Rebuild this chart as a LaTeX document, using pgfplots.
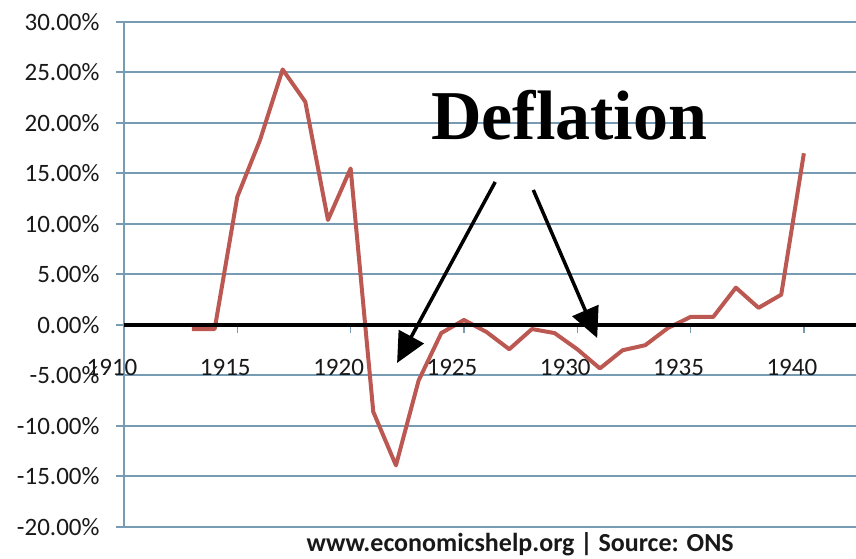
\documentclass[border=0pt]{standalone}
\usepackage{fontspec}
\setmainfont{Carlito}
\newfontfamily\deffont{Liberation Serif}
\usepackage{pgfplots}
\pgfplotsset{compat=1.18}
\usetikzlibrary{arrows.meta}
\definecolor{gridc}{RGB}{120,155,180}
\definecolor{linec}{RGB}{188,88,82}
\begin{document}
\begin{tikzpicture}
\begin{axis}[
  scale only axis,
  width=732pt, height=505pt,
  xmin=1910, xmax=1942.3,
  ymin=-20, ymax=30,
  axis x line=middle,
  axis y line=left,
  hide obscured x ticks=false,
  x axis line style={draw=none},
  y axis line style={gridc, line width=2pt, -},
  clip=false,
  xtick={1910,1915,...,1940},
  ytick={-20,-15,...,30},
  tick align=outside,
  major tick length=8pt,
  x tick style={gridc, line width=1.5pt},
  y tick style={gridc, line width=2pt},
  ymajorgrids,
  major grid style={gridc, line width=2pt},
  /pgf/number format/assume math mode=true,
  tick label style={font=\fontsize{25}{30}\selectfont, text=black!90},
  xticklabel style={xshift=-12pt, yshift=-23pt},
  xticklabel={\pgfmathprintnumber[1000 sep={},fixed,precision=0]{\tick}},
  yticklabel={\pgfmathprintnumber[fixed,fixed zerofill,precision=2]{\tick}\%},
  yticklabel style={xshift=-13pt},
]
\addplot[linec, line width=4pt, line join=round, mark=none] table {
1913 -0.4
1914 -0.4
1915 12.7
1916 18.3
1917 25.3
1918 22.1
1919 10.4
1920 15.5
1921 -8.6
1922 -13.9
1923 -5.5
1924 -0.8
1925 0.5
1926 -0.7
1927 -2.4
1928 -0.4
1929 -0.8
1930 -2.4
1931 -4.3
1932 -2.5
1933 -2.0
1934 -0.3
1935 0.8
1936 0.8
1937 3.7
1938 1.7
1939 3.0
1940 17.0
};
\draw[black, line width=4pt] (axis cs:1910,0) -- (axis cs:1942.3,0);
\node[anchor=base, font=\deffont\bfseries\fontsize{70}{80}\selectfont] at (axis cs:1929.65,18.4) {Deflation};
\draw[black, line width=3.5pt, -{Triangle[length=30pt,width=28pt]}] (axis cs:1926.38,14.16) -- (axis cs:1922.05,-3.76);
\draw[black, line width=3.5pt, -{Triangle[length=30pt,width=28pt]}] (axis cs:1928.06,13.37) -- (axis cs:1930.88,-1.29);
\coordinate (sw) at (rel axis cs:0,0);
\coordinate (ne) at (rel axis cs:1,1);
\coordinate (src) at (axis cs:1927.48,-20);
\end{axis}
\node[anchor=base, font=\bfseries\fontsize{26}{30}\selectfont, text=black!90, yshift=-25pt] at (src) {www.economicshelp.org | Source: ONS};
\pgfresetboundingbox
\path ([shift={(-124pt,-32pt)}]sw) rectangle ([shift={(0pt,22pt)}]ne);
\end{tikzpicture}
\end{document}
